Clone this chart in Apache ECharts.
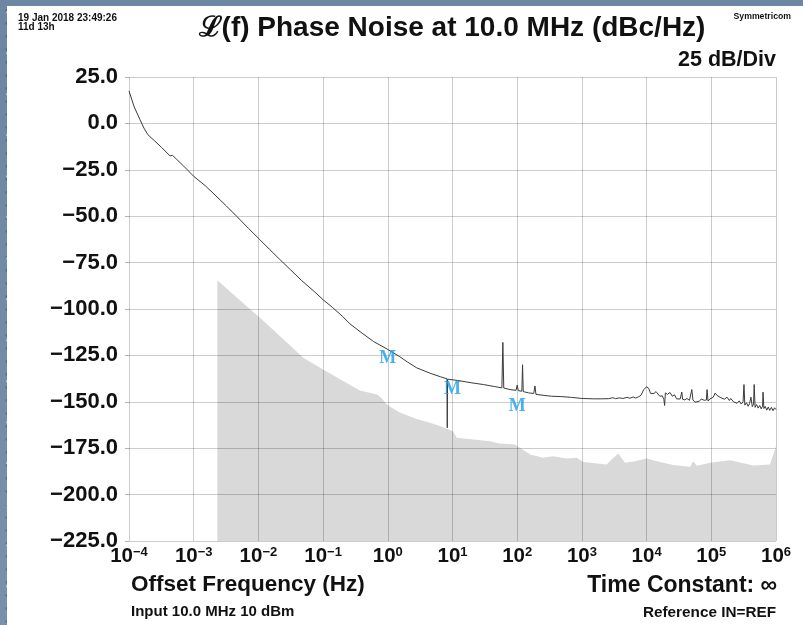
<!DOCTYPE html>
<html>
<head>
<meta charset="utf-8">
<script src="https://cdn.jsdelivr.net/npm/echarts@6.0.0/dist/echarts.min.js"></script>
<style>
  html, body { margin: 0; padding: 0; }
  body {
    width: 803px; height: 625px; overflow: hidden; position: relative;
    background:
      radial-gradient(circle at 20% 30%, rgba(255,255,255,0.45) 0 1px, transparent 1.6px) 0 0/37px 41px,
      radial-gradient(circle at 70% 60%, rgba(255,255,255,0.3) 0 1px, transparent 1.6px) 0 0/23px 29px,
      radial-gradient(circle at 40% 80%, rgba(40,60,90,0.35) 0 1px, transparent 1.8px) 0 0/17px 13px,
      linear-gradient(#6c86a3, #7990aa);
  }
  .panel { position: absolute; left: 7px; top: 6px; right: 0; bottom: 0; background: #fff; }
  #chart { position: absolute; left: 0; top: 0; width: 803px; height: 625px; }
</style>
</head>
<body>
<div class="panel"></div>
<div id="chart"></div>
<script>
// phase noise trace, offset frequency (Hz) -> dBc/Hz
var noiseFreq = [
  1e-4, 1.2e-4, 1.48e-4, 1.7e-4, 1.95e-4, 2.5e-4, 3.2e-4, 4.3e-4, 4.7e-4, 5.0e-4, 5.5e-4, 7e-4,
  1e-3, 1.5e-3, 2.2e-3, 3.2e-3, 4.6e-3, 7e-3, 1.05e-2, 1.5e-2, 2.14e-2, 3.1e-2, 4.6e-2, 7e-2,
  0.1, 0.14, 0.2, 0.26, 0.4, 0.6, 1.0, 1.5, 2.0, 2.8, 4.5, 6.5, 8.2, 8.3, 8.4, 12, 20, 30, 45,
  58, 60, 62, 80, 96, 100, 104, 118, 121, 124, 150, 180, 188, 195, 300, 320, 340, 480, 490, 500,
  690, 700, 720,
  1000, 1500, 2000, 2600, 3000, 3300, 3800, 4300, 5000, 5500, 6200, 6800, 7500, 8200, 9000,
  1e4, 1.08e4, 1.15e4, 1.22e4, 1.3e4, 1.4e4, 1.5e4, 1.6e4, 1.75e4, 1.85e4, 1.9e4, 1.95e4,
  2.1e4, 2.3e4, 2.5e4, 2.7e4, 2.9e4, 3.1e4, 3.3e4, 3.5e4, 3.6e4, 3.9e4, 4.2e4, 4.6e4, 4.9e4,
  5.0e4, 5.2e4, 5.6e4, 6.0e4, 6.5e4, 7.0e4, 7.8e4, 8.4e4, 8.6e4, 8.9e4, 9.5e4,
  1.0e5, 1.07e5, 1.15e5, 1.22e5, 1.3e5, 1.4e5, 1.5e5, 1.6e5, 1.75e5, 1.9e5, 2.0e5, 2.2e5,
  2.35e5, 2.5e5, 2.7e5, 2.9e5, 3.1e5, 3.2e5, 3.3e5, 3.5e5, 3.7e5, 3.9e5, 4.1e5, 4.3e5,
  4.5e5, 4.6e5, 4.75e5, 5.0e5, 5.3e5, 5.6e5, 5.9e5, 6.2e5, 6.3e5, 6.5e5, 6.8e5, 7.2e5,
  7.6e5, 8.0e5, 8.5e5, 9.0e5, 9.5e5, 1e6
];
var noiseDb = [
  17.5, 9, 2, -2.5, -6, -9.5, -13, -17.5, -17.2, -17.0, -19.5, -23,
  -28.5, -33.5, -39, -44.5, -50, -56.5, -62.6, -68, -73.3, -78.7, -84.5, -90,
  -95, -99.2, -104, -108, -113, -117.5, -121.8, -125.5, -128.5, -131.7, -134.6, -136.5, -137.6, -164, -137.8, -138.5, -139.8, -140.7, -141.8,
  -142.5, -118, -142.6, -143.5, -143.8, -141, -144, -144.3, -130, -144.5, -145.2, -145.5, -141.5, -146, -146.8, -145.8, -147, -147.2, -146.4, -147.4,
  -147.6, -146.9, -147.8,
  -148.2, -148.4, -148.4, -148.3, -147.8, -148.3, -147.9, -148.2, -147.6, -148.1, -147.4, -148, -147.3, -146.5, -143.5,
  -141.9, -142.8, -145.5, -146.3, -145.5, -144.5, -145.5, -147, -146.8, -148.8, -152, -145.2,
  -146, -145, -147, -146.2, -148.4, -148, -148.5, -144.8, -148.6, -149, -148.2, -149.2, -148.5,
  -143.4, -149, -150.2, -149.3, -149.8, -148.5, -149.2, -149, -143.4, -149.6, -148.5,
  -149.5, -147.5, -145.3, -146.5, -145.8, -147.8, -146.8, -148.6, -147.5, -149.3, -148.2, -150,
  -149, -150.8, -149.5, -151.2, -150, -140.7, -151.8, -150.5, -152.4, -151, -147.5, -152.6,
  -151.3, -140.7, -153, -151.5, -153.4, -152, -153.8, -152.4, -144.8, -153.6, -152.5, -154.5,
  -152.8, -154.6, -153, -154.8, -153.2, -154.2
];

// grey noise floor
var floorFreq = [
  2.32e-3, 6.6e-3, 1.06e-2, 4.95e-2, 0.1, 0.37, 0.68, 0.8, 0.96, 1.55, 2.8, 4.47, 6.4, 10.2, 11.6,
  38, 54, 92, 110, 158, 251, 362, 582, 830, 1050, 2415, 2920, 3660, 4640, 6600, 1e4, 1.61e4,
  2.59e4, 4.68e4, 5.25e4, 6e4, 9.6e4, 1.95e5, 4.47e5, 8.07e5, 1e6
];
var floorDb = [
  -84.5, -98.5, -104.7, -126.3, -132.6, -143.9, -146.1, -148, -151.5, -155.9, -159.2, -161.3, -163.1, -165.9, -169.4,
  -171.2, -172.5, -173, -174.8, -178.4, -180.2, -179.3, -180.6, -180.2, -182.5, -183.8, -181, -177.9, -182.9, -182, -180.6, -182.5,
  -184.1, -185, -182, -184.5, -182.9, -181.5, -184.3, -183.8, -173.9
];

// "M" markers
var markerFreq = [1, 10, 100];
var markerDb = [-126.8, -143.4, -152.7];

var SANS = '"Liberation Sans", Arial, Helvetica, sans-serif';
var MINUS = '\u2212';

function pairs(xs, ys) {
  return xs.map(function (x, i) { return [x, ys[i]]; });
}

function txt(text, x, y, size, align) {
  return {
    type: 'text', x: x, y: y, silent: true,
    style: {
      text: text, fill: '#111', align: align || 'left', verticalAlign: 'middle',
      font: 'bold ' + size + 'px ' + SANS
    }
  };
}

var chart = echarts.init(document.getElementById('chart'), null, { renderer: 'canvas' });
chart.setOption({
  animation: false,
  backgroundColor: 'transparent',
  grid: { left: 129, top: 77, width: 647, height: 464, containLabel: false },
  graphic: [
    txt('19 Jan 2018 23:49:26', 18, 18, 10),
    txt('11d 13h', 18, 27.5, 10),
    txt('\u2112(f) Phase Noise at 10.0 MHz (dBc/Hz)', 452, 28, 28, 'center'),
    txt('Symmetricom', 791, 17, 8.7, 'right'),
    txt('25 dB/Div', 776, 60, 21.5, 'right'),
    txt('Offset Frequency (Hz)', 131, 585, 22.5),
    txt('Time Constant: \u221e', 777, 586, 23, 'right'),
    txt('Input 10.0 MHz 10 dBm', 131, 612, 15),
    txt('Reference IN=REF', 776, 613, 15.3, 'right')
  ],
  xAxis: {
    type: 'log', logBase: 10, min: 1e-4, max: 1e6, interval: 1, z: 2,
    axisLine: { show: false },
    axisTick: { show: false },
    splitLine: { show: true, lineStyle: { color: 'rgba(0,0,0,0.2)', width: 1 } },
    axisLabel: {
      margin: 5,
      formatter: function (v) {
        var e = Math.round(Math.log10(v));
        return '{b|10}{s|' + (e < 0 ? MINUS + (-e) : e) + '}';
      },
      rich: {
        b: { fontFamily: SANS, fontWeight: 'bold', fontSize: 20.5, color: '#111', lineHeight: 21 },
        s: { fontFamily: SANS, fontWeight: 'bold', fontSize: 13, color: '#111', lineHeight: 13, verticalAlign: 'top' }
      }
    }
  },
  yAxis: {
    type: 'value', min: -225, max: 25, interval: 25, z: 2,
    axisLine: { show: false },
    axisTick: { show: true, length: 4, lineStyle: { color: 'rgba(0,0,0,0.3)' } },
    splitLine: { show: true, lineStyle: { color: 'rgba(0,0,0,0.2)', width: 1 } },
    axisLabel: {
      margin: 11, color: '#111', fontFamily: SANS, fontWeight: 'bold', fontSize: 22,
      formatter: function (v) {
        return (v < 0 ? MINUS : '') + Math.abs(v).toFixed(1);
      }
    }
  },
  series: [
    {
      name: 'floor', type: 'line', z: 1, silent: true, symbol: 'none',
      data: pairs(floorFreq, floorDb),
      lineStyle: { width: 0 },
      areaStyle: { color: '#d9d9d9', opacity: 1, origin: 'start' }
    },
    {
      name: 'noise', type: 'line', z: 3, silent: true, symbol: 'none',
      data: pairs(noiseFreq, noiseDb),
      lineStyle: { color: '#3a3a3a', width: 1 }
    },
    {
      name: 'markers', type: 'scatter', z: 4, silent: true,
      symbolSize: 1, itemStyle: { color: 'rgba(0,0,0,0)' },
      data: pairs(markerFreq, markerDb),
      label: {
        show: true, position: 'inside', formatter: 'M',
        color: '#1c9ee8', fontFamily: '"Liberation Serif", "DejaVu Serif", serif',
        fontWeight: 'bold', fontSize: 18
      }
    }
  ]
});
</script>
</body>
</html>
